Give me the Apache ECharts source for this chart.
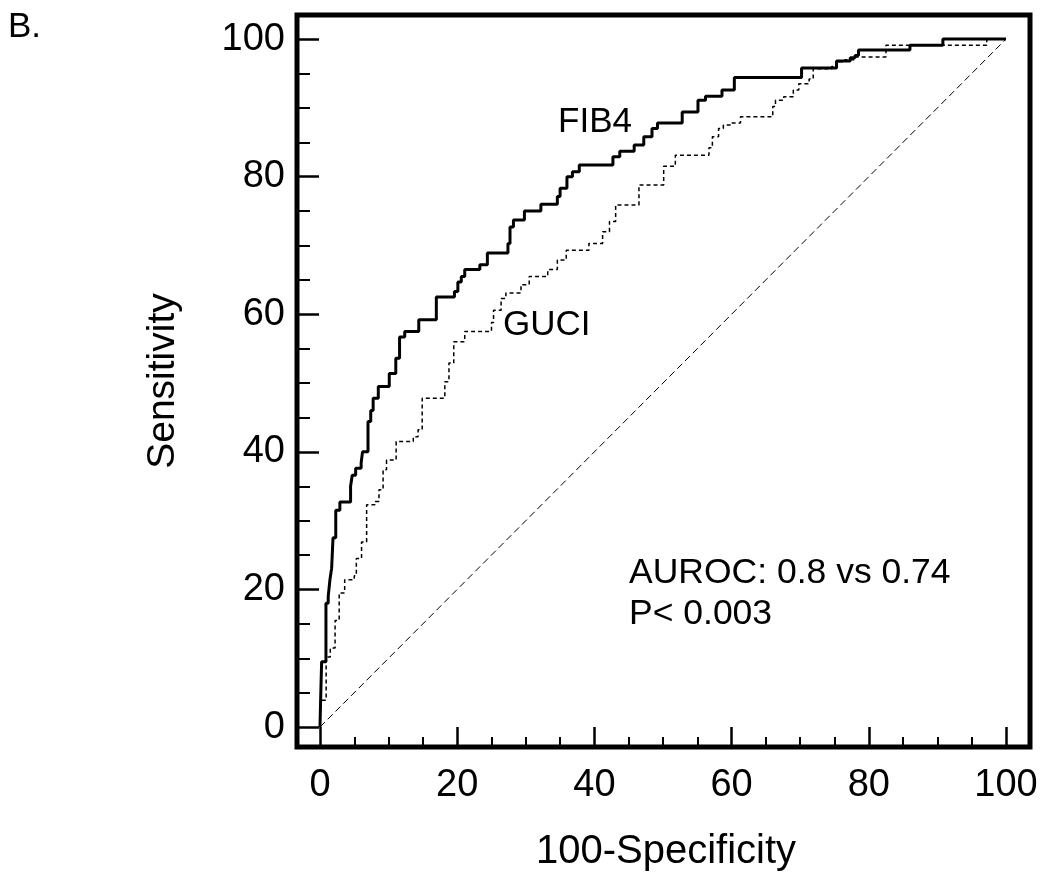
<!DOCTYPE html>
<html>
<head>
<meta charset="utf-8">
<script src="https://cdn.jsdelivr.net/npm/echarts@6/dist/echarts.min.js"></script>
<style>
html,body{margin:0;padding:0;background:#fff;}
#chart{width:1050px;height:883px;}
</style>
</head>
<body>
<div id="chart"></div>
<script>
// ---- data ----
const fib4X = [0, 0.1, 0.24, 0.87, 1.2, 1.45, 1.7, 1.9, 2.3, 2.9, 4.46, 4.7, 5.2, 6.0, 6.2, 7.0, 7.4, 7.75, 8.5, 10.1, 11.05, 11.6, 12.35, 14.4, 16.96, 19.6, 20.1, 20.6, 21.1, 23.3, 24.4, 27.4, 27.7, 28.2, 29.8, 32.2, 34.6, 35.0, 36.0, 36.8, 37.8, 42.7, 43.7, 45.8, 47.2, 48.4, 49.2, 52.8, 55.1, 56.2, 58.6, 60.4, 70.2, 75.3, 77.3, 78.0, 78.5, 86.0, 90.8, 100];
const fib4Y = [0, 4.2, 9.5, 18.0, 19.0, 21.4, 23.1, 27.5, 31.5, 32.7, 35.0, 36.6, 37.6, 38.4, 40.0, 44.4, 46.0, 47.8, 49.5, 51.4, 53.6, 56.7, 57.5, 59.2, 62.5, 63.3, 64.7, 65.5, 66.5, 67.2, 68.9, 70.3, 72.7, 73.7, 75.0, 76.0, 77.1, 78.3, 80.0, 80.7, 81.7, 82.9, 83.7, 84.6, 85.8, 87.0, 87.8, 89.4, 91.1, 91.7, 92.6, 94.4, 95.8, 96.8, 97.3, 97.6, 98.4, 99.1, 100, 100];
const guciX = [0, 0.1, 0.9, 1.5, 2.2, 2.8, 3.6, 5.0, 5.3, 6.06, 6.8, 8.0, 8.6, 9.2, 9.7, 11.1, 13.6, 14.3, 14.9, 18.2, 18.8, 19.5, 21.1, 25.0, 25.3, 26.4, 27.1, 29.3, 30.5, 33.2, 34.6, 35.9, 39.2, 41.2, 42.2, 43.1, 46.5, 50.1, 51.8, 56.7, 57.2, 58.1, 58.8, 59.8, 61.3, 66.0, 66.4, 67.6, 69.0, 69.8, 71.3, 71.9, 74.6, 75.3, 76.5, 78.0, 82.5, 97.2, 100];
const guciY = [0, 3.9, 10.2, 11.5, 15.5, 19.5, 21.4, 22.0, 24.5, 26.9, 32.3, 32.8, 34.5, 37.4, 38.8, 41.5, 42.2, 43.2, 47.8, 50.2, 52.9, 56.0, 57.5, 58.8, 60.6, 62.3, 63.1, 64.3, 65.5, 66.5, 67.9, 69.3, 70.3, 72.0, 73.5, 75.9, 78.8, 81.5, 83.1, 84.2, 85.8, 87.0, 87.5, 87.8, 88.7, 90.2, 91.1, 91.6, 92.6, 93.5, 94.2, 95.7, 96.0, 96.7, 97.0, 97.4, 99.1, 100, 100];
const refX = [0, 100];
const refY = [0, 100];
const majorTicks = [0, 20, 40, 60, 80, 100];
const minorTicks = [5, 10, 15, 25, 30, 35, 45, 50, 55, 65, 70, 75, 85, 90, 95];
const xTitle = '100-Specificity';
const yTitle = 'Sensitivity';
const panelLabel = 'B.';
const fib4Name = 'FIB4';
const guciName = 'GUCI';
const statLine1 = 'AUROC: 0.8 vs 0.74';
const statLine2 = 'P< 0.003';

const zip = (xs, ys) => xs.map((x, i) => [x, ys[i]]);
const FONT = "'Liberation Sans', Arial, sans-serif";

const chart = echarts.init(document.getElementById('chart'), null, {renderer: 'canvas'});

const xRange = {min: -3.35, max: 103.5};
const yRange = {min: -2.9, max: 103.5};

function axisBase(extra) {
  return Object.assign({
    type: 'value',
    splitLine: {show: false},
    axisLine: {show: false, onZero: false}
  }, extra);
}

const option = {
  backgroundColor: '#fff',
  animation: false,
  grid: {
    left: 297, top: 15, right: 20, bottom: 136,
    show: true, borderColor: '#000', borderWidth: 5, backgroundColor: 'transparent'
  },
  xAxis: [
    axisBase(Object.assign({}, xRange, {
      position: 'bottom',
      axisTick: {show: true, inside: true, length: 20, customValues: majorTicks, lineStyle: {color: '#000', width: 2.5}},
      axisLabel: {show: true, customValues: majorTicks, margin: 20, color: '#000', fontSize: 38, fontFamily: FONT}
    })),
    axisBase(Object.assign({}, xRange, {
      position: 'bottom',
      axisTick: {show: true, inside: true, length: 10, customValues: minorTicks, lineStyle: {color: '#000', width: 2}},
      axisLabel: {show: false}
    }))
  ],
  yAxis: [
    axisBase(Object.assign({}, yRange, {
      position: 'left',
      axisTick: {show: true, inside: true, length: 22, customValues: majorTicks, lineStyle: {color: '#000', width: 2.5}},
      axisLabel: {show: true, customValues: majorTicks, margin: 12, color: '#000', fontSize: 38, fontFamily: FONT}
    })),
    axisBase(Object.assign({}, yRange, {
      position: 'left',
      axisTick: {show: true, inside: true, length: 13, customValues: minorTicks, lineStyle: {color: '#000', width: 2}},
      axisLabel: {show: false}
    }))
  ],
  series: [
    {
      name: 'Reference', type: 'line', data: zip(refX, refY), symbol: 'none', silent: true,
      lineStyle: {color: '#000', width: 1, type: [7, 4]}
    },
    {
      name: guciName, type: 'line', step: 'end', data: zip(guciX, guciY), symbol: 'none',
      lineStyle: {color: '#000', width: 1.5, type: [4, 3]}
    },
    {
      name: fib4Name, type: 'line', step: 'end', data: zip(fib4X, fib4Y), symbol: 'none',
      lineStyle: {color: '#000', width: 3}
    }
  ],
  graphic: [
    {type: 'text', x: 8, y: 27, style: {text: panelLabel, font: '35px ' + FONT, fill: '#000', textVerticalAlign: 'middle'}},
    {type: 'text', x: 163, y: 381, rotation: Math.PI / 2, style: {text: yTitle, font: '39px ' + FONT, fill: '#000', textAlign: 'center', textVerticalAlign: 'middle'}},
    {type: 'text', x: 666, y: 852, style: {text: xTitle, font: '40px ' + FONT, fill: '#000', textAlign: 'center', textVerticalAlign: 'middle'}},
    {type: 'text', x: 595, y: 122, style: {text: fib4Name, font: '35px ' + FONT, fill: '#000', textAlign: 'center', textVerticalAlign: 'middle'}},
    {type: 'text', x: 503, y: 325, style: {text: guciName, font: '35px ' + FONT, fill: '#000', textVerticalAlign: 'middle'}},
    {type: 'text', x: 629, y: 573, style: {text: statLine1, font: '35.5px ' + FONT, fill: '#000', textVerticalAlign: 'middle'}},
    {type: 'text', x: 629, y: 614, style: {text: statLine2, font: '35.5px ' + FONT, fill: '#000', textVerticalAlign: 'middle'}}
  ]
};
chart.setOption(option);
</script>
</body>
</html>
